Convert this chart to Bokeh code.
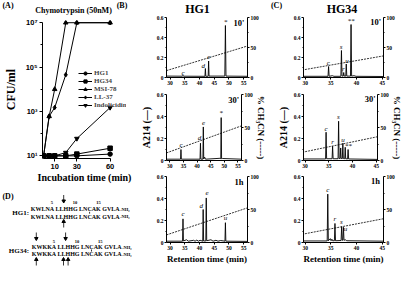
import math
from bokeh.plotting import figure
from bokeh.layouts import row, column
from bokeh.models import Range1d, LinearAxis, FixedTicker, Legend, LegendItem
from bokeh.core.properties import value
from bokeh.embed import file_html
from bokeh.resources import INLINE

SERIF = "Liberation Serif"
SANS = "Liberation Sans"

# ---------------- Panel A data ----------------
time_min = [0, 5, 10, 20, 30, 60]
cfu_hg1 = [10, 10, 10, 10, 10, 12]
cfu_hg34 = [10, 10, 10, 10, 12, 22]
cfu_msi78 = [10, 600, 10000, 1e7, 1e7, 1e7]
cfu_ll37 = [10, 600, 1500, 45000, 1e7, 1e7]
cfu_indolicidin = [10, 10, 10, 14, 60, 1500]
peptides = ["HG1", "HG34", "MSI-78", "LL-37", "Indolicidin"]
markers = ["circle", "square", "triangle", "diamond", "inverted_triangle"]
a_xticks = [10, 30, 60]
a_yticks = [1e1, 1e3, 1e5, 1e7]
a_ytick_labels = ["10¹", "10³", "10⁵", "10⁷"]

# ---------------- Panels B/C data (retention time min, A214) ----------------
grad_t = [28.8, 56.3]
grad_pct = [11.5, 52.5]

hg1_10_t = [28.8, 34.25, 34.4, 34.55, 41.85, 42.0, 42.15, 42.95, 43.1, 43.25, 48.6, 48.8, 49.0, 56.3]
hg1_10_a = [0.014, 0.013, 0.022, 0.013, 0.012, 0.090, 0.012, 0.012, 0.165, 0.014, 0.014, 0.520, 0.014, 0.012]
hg1_30_t = [28.8, 33.95, 34.1, 34.25, 41.1, 41.25, 41.4, 42.15, 42.3, 42.45, 42.8, 43.1, 48.4, 48.7, 48.85, 49.0, 49.4, 56.3]
hg1_30_a = [0.012, 0.012, 0.100, 0.012, 0.012, 0.157, 0.012, 0.012, 0.305, 0.014, 0.030, 0.012, 0.020, 0.016, 0.390, 0.016, 0.018, 0.012]
hg1_1h_t = [28.8, 34.25, 34.4, 34.55, 35.6, 36.2, 38.0, 38.5, 39.1, 39.6, 40.2, 41.1, 41.25, 41.4, 42.15, 42.3, 42.45, 43.9, 44.6, 45.6, 46.3, 47.2, 48.65, 48.8, 48.95, 56.3]
hg1_1h_a = [0.012, 0.012, 0.215, 0.014, 0.025, 0.012, 0.020, 0.012, 0.022, 0.012, 0.020, 0.012, 0.300, 0.014, 0.014, 0.405, 0.016, 0.025, 0.012, 0.020, 0.012, 0.018, 0.012, 0.180, 0.012, 0.010]

hg34_10_t = [29.7, 34.45, 34.56, 34.67, 35.3, 35.6, 36.95, 37.06, 37.17, 37.28, 37.4, 37.5, 37.6, 37.9, 38.0, 38.1, 38.82, 38.93, 39.04, 39.5, 39.9, 45.25]
hg34_10_a = [0.012, 0.012, 0.110, 0.012, 0.018, 0.012, 0.012, 0.270, 0.014, 0.014, 0.014, 0.050, 0.014, 0.014, 0.135, 0.014, 0.014, 0.530, 0.014, 0.018, 0.012, 0.010]
hg34_30_t = [29.7, 34.32, 34.43, 34.54, 35.69, 35.8, 35.91, 36.95, 37.06, 37.17, 37.4, 37.5, 37.6, 37.85, 37.95, 38.05, 38.35, 38.45, 38.55, 38.95, 39.06, 39.17, 45.25]
hg34_30_a = [0.014, 0.014, 0.257, 0.016, 0.016, 0.129, 0.016, 0.016, 0.357, 0.018, 0.018, 0.114, 0.018, 0.018, 0.157, 0.018, 0.016, 0.120, 0.016, 0.014, 0.100, 0.014, 0.010]
hg34_1h_t = [29.7, 34.29, 34.4, 34.51, 34.9, 35.05, 35.2, 35.35, 35.69, 35.8, 35.91, 36.99, 37.1, 37.22, 37.34, 37.45, 37.56, 37.8, 38.1, 45.25]
hg34_1h_a = [0.014, 0.014, 0.440, 0.016, 0.035, 0.016, 0.030, 0.016, 0.016, 0.173, 0.016, 0.018, 0.144, 0.020, 0.020, 0.138, 0.020, 0.025, 0.016, 0.012]

# peak labels: (text, retention time, height)
hg1_10_lab = (["c", "d", "e", "*"], [34.4, 41.3, 43.2, 48.8], [0.05, 0.12, 0.205, 0.56])
hg1_30_lab = (["c", "d", "e", "*"], [34.1, 40.9, 42.4, 48.8], [0.14, 0.205, 0.345, 0.435])
hg1_1h_lab = (["c", "d", "e", "u"], [34.4, 40.6, 42.6, 48.8], [0.255, 0.335, 0.45, 0.22])
hg34_10_lab = (["c", "s", "r", "u", "**"], [34.5, 37.0, 37.45, 38.15, 38.9], [0.15, 0.305, 0.085, 0.17, 0.565])
hg34_30_lab = (["c", "r", "s", "u", "**"], [34.4, 35.8, 37.0, 38.0, 39.1], [0.29, 0.165, 0.395, 0.19, 0.135])
hg34_1h_lab = (["c", "r", "s", "u"], [34.4, 35.8, 37.05, 37.85], [0.475, 0.21, 0.19, 0.12])
time_labels = ["10'", "30'", "1h"]
hg1_xticks = [30, 35, 40, 45, 50, 55]
hg34_xticks = [30, 35, 40, 45]

# ---------------- Panel D data ----------------
hg1_words = ["KWLNA", "LLHHG", "LNCAK", "GVLA"]
hg34_words = ["KWKKA", "LLHHG", "LNCAK", "GVLA"]
amide = "-NH₂"
res_numbers = ["5", "10", "15"]

# ---------------- helpers ----------------
def no_align(p):
    if "frame_align" in p.properties():
        p.frame_align = False
    return p


def make_fig(w, h, xr, yr, left, right, top, bottom, **kw):
    p = figure(width=w, height=h, x_range=Range1d(*xr), y_range=Range1d(*yr),
               output_backend="svg", toolbar_location=None, title=None,
               min_border_left=left, min_border_right=right,
               min_border_top=top, min_border_bottom=bottom, **kw)
    p.grid.visible = False
    p.outline_line_color = None
    p.background_fill_color = "white"
    p.border_fill_color = "white"
    return no_align(p)


def text_canvas(w, h):
    p = figure(width=w, height=h, x_range=Range1d(0, w), y_range=Range1d(h, 0),
               output_backend="svg", toolbar_location=None, title=None,
               x_axis_location=None, y_axis_location=None,
               min_border_left=0, min_border_right=0, min_border_top=0, min_border_bottom=0)
    p.grid.visible = False
    p.outline_line_color = None
    p.border_fill_color = "white"
    p.background_fill_color = "white"
    return no_align(p)


def style_axis(ax, font, size, tick_out=2, standoff=1):
    ax.axis_line_color = "black"
    ax.axis_line_width = 1
    ax.major_tick_line_color = "black"
    ax.major_tick_in = 0
    ax.major_tick_out = tick_out
    ax.minor_tick_line_color = "black"
    ax.minor_tick_in = 0
    ax.minor_tick_out = max(1, tick_out - 1)
    ax.major_label_text_font = font
    ax.major_label_text_font_size = size
    ax.major_label_text_font_style = "bold"
    ax.major_label_text_color = "black"
    ax.major_label_standoff = standoff


def axis_title(ax, text, size, standoff):
    ax.axis_label = text
    ax.axis_label_text_font = SERIF
    ax.axis_label_text_font_size = size
    ax.axis_label_text_font_style = "bold"
    ax.axis_label_text_color = "black"
    ax.axis_label_standoff = standoff


def ptext(p, xs, ys, texts, size, align="left", style="bold", font=SERIF):
    p.text(x=xs, y=ys, text=texts, text_font=value(font), text_font_size=size,
           text_font_style=style, text_align=align, text_baseline="middle", text_color="black")


TOTAL_W = 404
STRIP_H = 15

# ---------------- top strip with panel letters / titles ----------------
strip = text_canvas(TOTAL_W, STRIP_H)
ptext(strip, [7.5, 121.5, 276], [5.0, 5.0, 5.0], ["(A)", "(B)", "(C)"], "8px", align="center")
ptext(strip, [73.0], [9.6], ["Chymotrypsin (50nM)"], "8px", align="center")
ptext(strip, [197, 341.5], [8.2, 8.2], ["HG1", "HG34"], "12px", align="center")

# ---------------- Panel A ----------------
A_W, A_H = 136, 175
A_L, A_R, A_T, A_B = 38, 10, 5, 32
A_XR = (-1, 74.8)
A_YR = (10 ** 0.88, 10 ** 7.1)
pA = make_fig(A_W, A_H, A_XR, A_YR, A_L, A_R, A_T, A_B, y_axis_type="log")
pA.xaxis.ticker = FixedTicker(ticks=a_xticks)
pA.yaxis.ticker = FixedTicker(ticks=a_yticks, minor_ticks=[1e2, 1e4, 1e6])
pA.yaxis.major_label_overrides = dict(zip(a_yticks, a_ytick_labels))
pA.xaxis.bounds = (0, 60)
pA.yaxis.bounds = (A_YR[0], 1e7)
for ax in pA.axis:
    style_axis(ax, SANS, "7.5px", tick_out=3, standoff=2)
axis_title(pA.xaxis[0], "Incubation time (min)", "10px", 0)
axis_title(pA.yaxis[0], "CFU/ml", "12px", 5)

items = []
for name, vals, mk in zip(peptides, [cfu_hg1, cfu_hg34, cfu_msi78, cfu_ll37, cfu_indolicidin], markers):
    ln = pA.line(time_min, vals, line_color="black", line_width=1)
    sc = pA.scatter(time_min, vals, marker=mk, size=4.5, fill_color="black", line_color="black")
    items.append(LegendItem(label=name, renderers=[ln, sc]))
leg = Legend(items=items, location=(36, 49), orientation="vertical",
             label_text_font=SERIF, label_text_font_size="7px", label_text_font_style="bold",
             glyph_width=14, glyph_height=8, label_height=8, label_standoff=2,
             spacing=0, padding=0, margin=0, border_line_color=None, background_fill_alpha=0)
pA.add_layout(leg)

# ---------------- Panel D ----------------
pD = text_canvas(136, 76)
ptext(pD, [7.5], [5.5], ["(D)"], "8px", align="center")
ptext(pD, [28.5, 28.5], [22.2, 60.0], ["HG1:", "HG34:"], "7px", align="right")
hg1_word_x = [30.3, 55.1, 78.6, 101.8]
hg34_word_x = [31.3, 57.0, 80.5, 103.7]
for yy in (18.5, 26.0):
    ptext(pD, hg1_word_x, [yy] * 4, hg1_words, "6px")
for yy in (56.2, 63.8):
    ptext(pD, hg34_word_x, [yy] * 4, hg34_words, "6px")
ptext(pD, [119.6, 119.6, 121.5, 121.5], [18.8, 26.3, 56.5, 64.1], [amide] * 4, "4.5px")
ptext(pD, [51.4, 74.6, 97.9], [11.6] * 3, res_numbers, "4.5px", align="center")
ptext(pD, [53.3, 76.5, 99.8], [50.5] * 3, res_numbers, "4.5px", align="center")
# cleavage arrows (down = above sequence, up = below sequence)
down_x = [63.2, 35.8, 65.1]
down_y = [10.5, 48.0, 48.0]
up_x = [63.2, 35.8, 63.0, 67.6]
up_y = [31.0, 69.0, 69.0, 69.0]
pD.segment(x0=down_x, y0=[y - 6 for y in down_y], x1=down_x, y1=down_y, line_color="black", line_width=0.8)
pD.scatter(down_x, down_y, marker="inverted_triangle", size=3.5, color="black")
pD.segment(x0=up_x, y0=[y + 6 for y in up_y], x1=up_x, y1=up_y, line_color="black", line_width=0.8)
pD.scatter(up_x, up_y, marker="triangle", size=3.5, color="black")
pD.segment(x0=[89.1, 91.0], y0=[21.3, 59.0], x1=[89.1, 91.0], y1=[23.2, 61.0], line_color="black", line_width=0.8)

# ---------------- Panels B & C ----------------
B_W, B_L, B_R, B_XR = 132, 30, 21, (28.8, 56.3)
C_W, C_L, C_R, C_XR = 136, 35, 21, (29.68, 45.24)
ROWS = [(73, 2, 11), (82, 6, 10), (96, 6, 24)]  # height, top, bottom


def chrom_fig(w, left, right, xr, xticks, ri, trace, tlabel, tl_x, tl_y):
    t, a, lab = trace
    h, top, bottom = ROWS[ri]
    p = make_fig(w, h, xr, (0, 0.6), left, right, top, bottom)
    p.extra_y_ranges = {"pct": Range1d(0, 100)}
    rax = LinearAxis(y_range_name="pct")
    p.add_layout(rax, "right")
    xax = p.below[0]
    lax = p.left[0]
    xax.ticker = FixedTicker(ticks=xticks)
    lax.ticker = FixedTicker(ticks=[0, 0.2, 0.4, 0.6], minor_ticks=[0.1, 0.3, 0.5])
    lax.major_label_overrides = {0: "0"}
    rax.ticker = FixedTicker(ticks=[0, 50, 100], minor_ticks=[25, 75])
    for ax in (xax, lax, rax):
        style_axis(ax, SERIF, "5.5px")
    if ri == 1:
        axis_title(lax, "A214 (—)", "10px", 2)
        axis_title(rax, "% CH₃CN (-----)", "9px", 0)
    if ri == 2:
        axis_title(xax, "Retention time (min)", "9px", 1)
    p.line(grad_t, grad_pct, y_range_name="pct", line_color="black", line_width=0.8, line_dash="2 1")
    p.line(t, a, line_color="black", line_width=0.9)
    p.text(x=lab[1], y=lab[2], text=lab[0], text_font=value(SERIF), text_font_style="italic",
           text_font_size="7px", text_align="center", text_baseline="middle", text_color="black")
    p.text(x=[tl_x], y=[tl_y], text=[tlabel], text_font=value(SERIF), text_font_style="bold",
           text_font_size="8.5px", text_align="center", text_baseline="middle", text_color="black")
    return p


hg1_traces = [(hg1_10_t, hg1_10_a, hg1_10_lab), (hg1_30_t, hg1_30_a, hg1_30_lab), (hg1_1h_t, hg1_1h_a, hg1_1h_lab)]
hg34_traces = [(hg34_10_t, hg34_10_a, hg34_10_lab), (hg34_30_t, hg34_30_a, hg34_30_lab), (hg34_1h_t, hg34_1h_a, hg34_1h_lab)]

figsB = [chrom_fig(B_W, B_L, B_R, B_XR, hg1_xticks, ri, hg1_traces[ri], time_labels[ri], 53.4, 0.55)
         for ri in range(3)]
figsC = [chrom_fig(C_W, C_L, C_R, C_XR, hg34_xticks, ri, hg34_traces[ri], time_labels[ri], 43.7, 0.555)
         for ri in range(3)]

body = row(column(pA, pD, spacing=0), column(*figsB, spacing=0), column(*figsC, spacing=0), spacing=0)
layout = column(strip, body, spacing=0)
open("out.html", "w").write(file_html(layout, INLINE, "Chymotrypsin digestion"))
